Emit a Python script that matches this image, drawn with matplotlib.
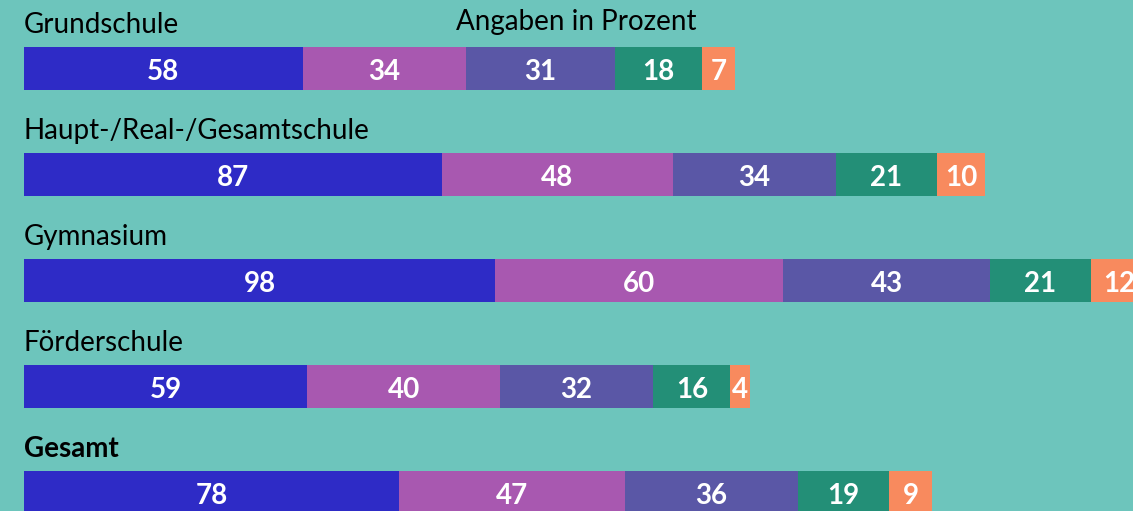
import numpy as np
import matplotlib.pyplot as plt

plt.rcParams['font.family'] = ['Lato', 'DejaVu Sans']

schools = ["Grundschule", "Haupt-/Real-/Gesamtschule", "Gymnasium", "Förderschule", "Gesamt"]
seg1 = [58, 87, 98, 59, 78]
seg2 = [34, 48, 60, 40, 47]
seg3 = [31, 34, 43, 32, 36]
seg4 = [18, 21, 21, 16, 19]
seg5 = [7, 10, 12, 4, 9]
series = [seg1, seg2, seg3, seg4, seg5]
colors = ["#2e2bc6", "#a858b0", "#5a57a6", "#238f77", "#f88a5e"]
bg = "#6dc5bc"
note = "Angaben in Prozent"

fig = plt.figure(figsize=(11.33, 5.11), dpi=100)
fig.patch.set_facecolor(bg)
ax = fig.add_axes([0, 0, 1, 1])
ax.set_facecolor(bg)

y = np.arange(len(schools))
left = np.zeros(len(schools))
for vals, c in zip(series, colors):
    vals = np.array(vals)
    ax.barh(y, vals, left=left, height=0.406, color=c, edgecolor="none")
    for yi, l, v in zip(y, left, vals):
        ax.text(l + v / 2, yi + 0.03, str(v), color="white", fontsize=20,
                fontweight="bold", ha="center", va="center")
    left = left + vals

for yi, name in zip(y, schools):
    ax.text(0, yi - 0.41, name, fontsize=20, ha="left", va="center",
            color="black", fontweight="bold" if name == "Gesamt" else "normal")

ax.text(456 / 1133, 0.957, note, transform=ax.transAxes, fontsize=20,
        ha="left", va="center", color="black")

ax.set_xlim(-24 / 4.805, 1109 / 4.805)
ax.set_ylim(4.175, -0.646)
ax.axis("off")

plt.savefig("out.png", dpi=100, facecolor=bg)
